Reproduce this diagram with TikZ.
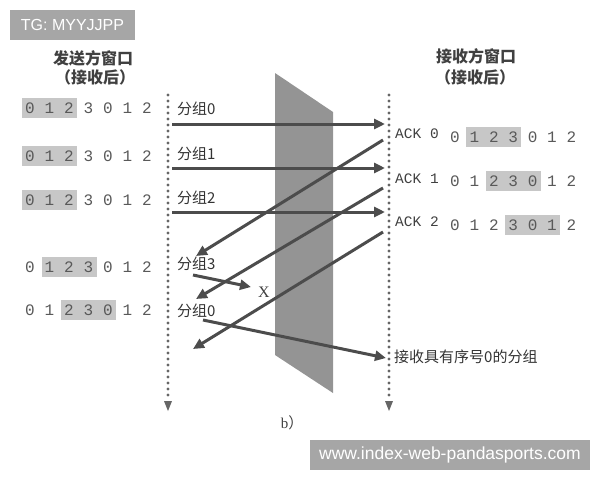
\documentclass[tikz,border=0pt]{standalone}
\usepackage{fontspec}
\setmainfont{Liberation Serif}
\setmonofont{Liberation Mono}
\setsansfont{Liberation Sans}
\newfontfamily\cjk{Noto Sans CJK SC}
\usetikzlibrary{arrows.meta}
\tikzstyle{digit}=[font=\ttfamily\fontsize{16}{16}\selectfont,text=black!65,inner sep=0pt]
\tikzstyle{winbox}=[fill=black!22]
\tikzstyle{pkt}=[font=\cjk\fontsize{15}{15}\selectfont,text=black!80,inner sep=0pt,anchor=west]
\tikzstyle{ack}=[font=\ttfamily\fontsize{14.5}{14.5}\selectfont,text=black!75,inner sep=0pt,anchor=west]
\tikzstyle{title}=[font=\cjk\bfseries\fontsize{16}{16}\selectfont,text=black!75,inner sep=0pt]
\tikzstyle{edge}=[draw=black!70,line width=3pt,-{Triangle[length=11pt,width=10pt]}]
\tikzstyle{timeline}=[draw=black!60,line width=3.2pt,line cap=round,dash pattern=on 0pt off 6pt]
\tikzstyle{tip}=[fill=black!60]
\tikzstyle{tagbox}=[fill=black!35,text=white,font=\sffamily\fontsize{17.5}{17.5}\selectfont]

\begin{document}
\begin{tikzpicture}[x=1pt,y=-1pt]
	\useasboundingbox (0,0) rectangle (600,480);

	% the medium between both sides
	\fill[black!42] (275,73) -- (333,112) -- (333,393) -- (275,355) -- cycle;

	% titles
	\node[title] (stitle) at (93,58) {发送方窗口};
	\node[title] (ssub) at (95,77) {（接收后）};
	\node[title] (rtitle) at (476,56) {接收方窗口};
	\node[title] (rsub) at (475,77) {（接收后）};

	% time lines
	\coordinate (sTop) at (168,95);
	\coordinate (sBot) at (168,400);
	\coordinate (rTop) at (389,95);
	\coordinate (rBot) at (389,400);
	\draw[timeline] (sTop) -- (sBot);
	\draw[timeline] (rTop) -- (rBot);
	\fill[tip] (164,401) -- (172,401) -- (168,411) -- cycle;
	\fill[tip] (385,401) -- (393,401) -- (389,411) -- cycle;

	% sender windows
	\foreach \y/\lo/\hi in {108/1/3, 156/1/3, 200/1/3, 267/2/4, 310/3/5}
		\fill[winbox] (30+\lo*19.5-27.5,\y-10) rectangle (30+\hi*19.5-11.5,\y+10);
	\foreach \y/\r in {108/a, 156/b, 200/c, 267/d, 310/e}
		\foreach \d [count=\i] in {0,1,2,3,0,1,2}
			\node[digit] (s\r\i) at (30+\i*19.5-19.5,\y) {\d};

	% receiver windows
	\foreach \y/\lo/\hi in {137/2/4, 181/3/5, 225/4/6}
		\fill[winbox] (455+\lo*19.4-27.4,\y-10) rectangle (455+\hi*19.4-11.4,\y+10);
	\foreach \y/\r in {137/a, 181/b, 225/c}
		\foreach \d [count=\i] in {0,1,2,3,0,1,2}
			\node[digit] (r\r\i) at (455+\i*19.4-19.4,\y) {\d};

	% packet and ack labels
	\foreach \pos/\name/\txt in {{(177,109)/p0/分组0}, {(177,154)/p1/分组1}, {(177,198)/p2/分组2},
									{(177,264)/p3/分组3}, {(177,311)/p4/分组0}}
	\node[pkt] (\name) at \pos {\txt};
	\foreach \pos/\name/\txt in {{(395,134)/a0/ACK 0}, {(395,179)/a1/ACK 1}, {(395,222)/a2/ACK 2}}
	\node[ack] (\name) at \pos {\txt};

	% end points of the arrows
	\foreach \x/\y/\name in {172/124/p0s, 385/124/p0e, 172/168/p1s, 385/168/p1e,
							172/212/p2s, 385/212/p2e, 383/140/a0s, 196/256/a0e,
							383/188/a1s, 196/299/a1e, 383/232/a2s, 193/349/a2e,
							193/275/p3s, 251/287/p3e, 203/320/p4s, 386/358/p4e}
	\coordinate (\name) at (\x,\y);

	\foreach \source/\dest in {p0s/p0e, p1s/p1e, p2s/p2e, a0s/a0e, a1s/a1e, a2s/a2e, p3s/p3e, p4s/p4e}
	\path[edge] (\source) -- (\dest);

	\node[font=\fontsize{16}{16}\selectfont,text=black!75] (lost) at (264,292) {X};
	\node[pkt] (got) at (394,357) {接收具有序号0的分组};
	\node[font=\fontsize{15}{15}\selectfont,text=black!75] (cap) at (292,423) {b{\cjk ）}};

	% watermarks
	\node[tagbox,font=\sffamily\fontsize{16}{16}\selectfont,minimum width=125pt,minimum height=30pt] (tg) at (72.5,25) {TG: MYYJJPP};
	\node[tagbox,minimum width=280pt,minimum height=30pt] (web) at (450,455) {www.index-web-pandasports.com};
\end{tikzpicture}
\end{document}
